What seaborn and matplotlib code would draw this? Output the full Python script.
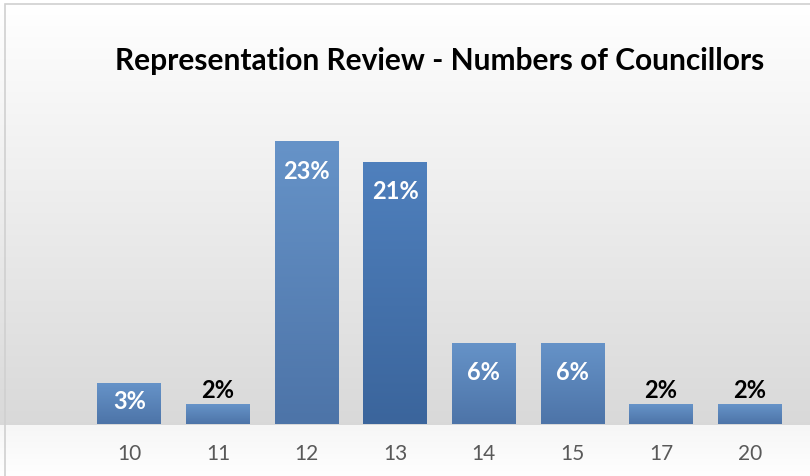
import numpy as np
import pandas as pd
import seaborn as sns
import matplotlib.pyplot as plt
from matplotlib.colors import LinearSegmentedColormap
from matplotlib.patches import Rectangle

councillors = ["10", "11", "12", "13", "14", "15", "17", "20"]
share = [3.3, 1.6, 23.0, 21.3, 6.6, 6.6, 1.6, 1.6]
labels = ["3%", "2%", "23%", "21%", "6%", "6%", "2%", "2%"]

df = pd.DataFrame({"councillors": councillors, "share": share})

sns.set_style("white")
plt.rcParams["font.family"] = ["Lato", "DejaVu Sans"]

fig = plt.figure(figsize=(8.1, 4.77), dpi=100)

# background gradient across the whole figure
bg = fig.add_axes([0, 0, 1, 1], zorder=-5)
rows = np.zeros((477, 1, 3))
for i in range(477):
    if i < 426:
        t = max(i - 5, 0) / 420
        c = 1.0 - t * (1.0 - 0.85)
    else:
        t = (i - 426) / 51
        c = 0.965 + t * 0.035
    rows[i, 0, :] = c
bg.imshow(rows, aspect="auto", extent=[0, 1, 0, 1])
bg.set_axis_off()
fig.patches.append(Rectangle((5 / 810, -0.1), 1.2, 1 - 5 / 477 + 0.1, transform=fig.transFigure,
                             fill=False, edgecolor="#d0d0d0", linewidth=1.2, zorder=10))

ax = fig.add_axes([85 / 810, 1 - 425 / 477, (794 - 85) / 810, 325 / 477])
ax.patch.set_alpha(0)
sns.barplot(data=df, x="councillors", y="share", color="#5a86bd", width=0.72, ax=ax)
ax.set_ylim(0, 26.4)
ax.set_xlim(-0.5, len(councillors) - 0.5)

# gradient fill on each bar
light = LinearSegmentedColormap.from_list("b", ["#4d74a8", "#6693c8"])
dark = LinearSegmentedColormap.from_list("d", ["#3b659c", "#4f80bd"])
grad = np.linspace(0, 1, 100).reshape(-1, 1)
for i, bar in enumerate(ax.patches):
    x0, w, h = bar.get_x(), bar.get_width(), bar.get_height()
    cmap = dark if councillors[i] == "13" else light
    im = ax.imshow(grad, cmap=cmap, aspect="auto", origin="lower",
                   extent=[x0, x0 + w, 0, h], zorder=3)
    im.set_clip_path(bar)
    bar.set_edgecolor("none")

# value labels
for i, bar in enumerate(ax.patches):
    h = bar.get_height()
    xc = bar.get_x() + bar.get_width() / 2
    if h >= 3:
        off = -21 if h > 5 else -12
        ax.annotate(labels[i], (xc, h), xytext=(0, off), textcoords="offset points",
                    ha="center", va="center", color="white", fontsize=17,
                    fontweight="bold", zorder=5)
    else:
        ax.annotate(labels[i], (xc, h), xytext=(0, 10.5), textcoords="offset points",
                    ha="center", va="center", color="black", fontsize=17,
                    fontweight="bold", zorder=5)

ax.set_title("Representation Review - Numbers of Councillors", fontsize=21.5,
             fontweight="bold", color="black", y=1.068)
ax.set_xlabel("")
ax.set_ylabel("")
ax.set_yticks([])
ax.tick_params(axis="x", length=0, pad=14, labelsize=15, labelcolor="#595959")
sns.despine(ax=ax, left=True, bottom=True)

fig.savefig("out.png", dpi=100)
